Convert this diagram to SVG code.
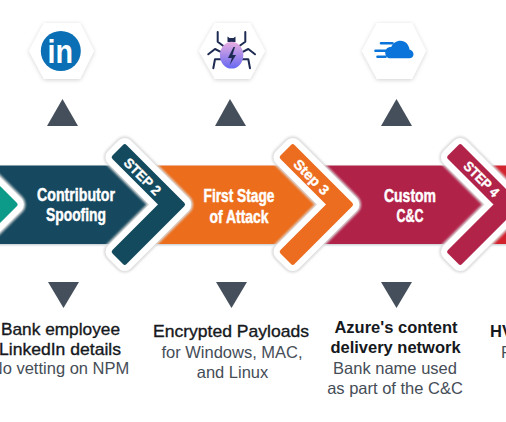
<svg xmlns="http://www.w3.org/2000/svg" width="506" height="422" viewBox="0 0 506 422">
<style>
.hex{fill:#fff;filter:url(#soft)}
.tri{fill:#454f5b}
.band{filter:url(#bandshadow)}
.halo{fill:none;stroke:#dcdcdc;stroke-width:21;stroke-linejoin:round;filter:url(#blur)}
.rim{fill:#fff;stroke:#fff;stroke-width:17.500;stroke-linejoin:round}
.ch{stroke-width:5;stroke-linejoin:round}
.title{font-family:"Liberation Sans",Arial,sans-serif;font-weight:700;font-size:19px;fill:#fff;stroke:#fff;stroke-width:.5;text-anchor:middle}
.step{font-family:"Liberation Sans",Arial,sans-serif;font-weight:700;font-size:14px;fill:#fff;stroke:#fff;stroke-width:.3;text-anchor:middle}
.head{font-family:"Liberation Sans",Arial,sans-serif;font-size:17px;fill:#15181c;stroke:#15181c;stroke-width:.35;text-anchor:middle}
.bold{font-family:"Liberation Sans",Arial,sans-serif;font-weight:700;font-size:16.500px;fill:#15181c;text-anchor:middle}
.sub{font-family:"Liberation Sans",Arial,sans-serif;font-size:16.500px;fill:#454d57;text-anchor:middle}
.leg{fill:none;stroke:#1d2a52;stroke-width:2;stroke-linejoin:round;stroke-linecap:round}
.speed{fill:none;stroke:#0a74da;stroke-width:2.6;stroke-linecap:round}
</style>
<defs>
<filter id="soft" x="-20%" y="-20%" width="140%" height="140%"><feDropShadow dx="0" dy="1" stdDeviation="2" flood-color="#000" flood-opacity=".18"/></filter>
<filter id="bandshadow" x="-5%" y="-10%" width="110%" height="120%"><feDropShadow dx="0" dy="1" stdDeviation=".8" flood-color="#5a6a7a" flood-opacity=".4"/></filter>
<filter id="blur" x="-20%" y="-20%" width="140%" height="140%"><feGaussianBlur stdDeviation="1"/></filter>
<linearGradient id="bugfill" x1="0" y1="0" x2="0" y2="1"><stop offset="0" stop-color="#e8aee0"/><stop offset="1" stop-color="#6768f2"/></linearGradient>
<path id="chev" d="M124.750 146.750L182.500 204.500L124.750 262.250L114.250 251.750L161.500 204.500L114.250 157.250Z"/>
</defs>
<rect width="506" height="422" fill="#fff"/>

<g id="bands">
<rect class="band" x="-20" y="165.500" width="170" height="78.500" fill="#134a5e"/>
<rect class="band" x="150" y="165.500" width="168" height="78.500" fill="#ec6d1f"/>
<rect class="band" x="318" y="165.500" width="167" height="78.500" fill="#b12348"/>
<rect class="band" x="485" y="165.500" width="40" height="78.500" fill="#d2202f"/>
</g>

<g id="step-1">
<use href="#chev" class="halo" transform="translate(-167.500 0)"/>
<use href="#chev" class="rim" transform="translate(-167.500 0)"/>
<use href="#chev" class="ch" transform="translate(-167.500 0)" fill="#0c9b88" stroke="#0c9b88"/>
</g>
<g id="step-2">
<use href="#chev" class="halo"/>
<use href="#chev" class="rim"/>
<use href="#chev" class="ch" fill="#134a5e" stroke="#134a5e"/>
<text class="step" transform="translate(139 180) rotate(45)" textLength="46" lengthAdjust="spacingAndGlyphs">STEP 2</text>
<text class="title" x="76" y="200.500" textLength="78" lengthAdjust="spacingAndGlyphs">Contributor</text>
<text class="title" x="76" y="220.500" textLength="60" lengthAdjust="spacingAndGlyphs">Spoofing</text>
</g>
<g id="step-3">
<use href="#chev" class="halo" transform="translate(168 0)"/>
<use href="#chev" class="rim" transform="translate(168 0)"/>
<use href="#chev" class="ch" transform="translate(168 0)" fill="#ec6d1f" stroke="#ec6d1f"/>
<text class="step" transform="translate(308 180.500) rotate(45)" textLength="44" lengthAdjust="spacingAndGlyphs">Step 3</text>
<text class="title" x="239" y="202" textLength="71" lengthAdjust="spacingAndGlyphs">First Stage</text>
<text class="title" x="239" y="222.500" textLength="59" lengthAdjust="spacingAndGlyphs">of Attack</text>
</g>
<g id="step-4">
<use href="#chev" class="halo" transform="translate(335.500 0)"/>
<use href="#chev" class="rim" transform="translate(335.500 0)"/>
<use href="#chev" class="ch" transform="translate(335.500 0)" fill="#b12348" stroke="#b12348"/>
<text class="step" transform="translate(478 182.500) rotate(45)" textLength="44" lengthAdjust="spacingAndGlyphs">STEP 4</text>
<text class="title" x="410" y="202" textLength="52" lengthAdjust="spacingAndGlyphs">Custom</text>
<text class="title" x="410" y="222" textLength="27" lengthAdjust="spacingAndGlyphs">C&amp;C</text>
</g>

<g id="connectors">
<polygon class="tri" points="62.500,99 47,126 78,126"/>
<polygon class="tri" points="230,99 215,126 246,126"/>
<polygon class="tri" points="396.500,99 381,126 412,126"/>
<polygon class="tri" points="48,282 79,282 63.500,308"/>
<polygon class="tri" points="216,282 247,282 231.500,308"/>
<polygon class="tri" points="381,282 412,282 396.500,308"/>
</g>

<g id="icon-linkedin">
<polygon class="hex" points="29,51 44,23 80,23 94,51 80,79 44,79"/>
<circle cx="60.800" cy="51" r="20" fill="#0a6fb4"/>
<text x="47.500" y="63" font-family="'Liberation Sans',Arial,sans-serif" font-weight="700" font-size="33" fill="#fff" textLength="25.500" lengthAdjust="spacingAndGlyphs">in</text>
</g>
<g id="icon-bug">
<polygon class="hex" points="199,51 215,23 250,23 265,51 250,79 215,79"/>
<path class="leg" d="M217.700 32V41.700L223 45.700M245.300 32V41.700L239.700 45.700M208.300 54.300L215 49L221.700 52.300M255 54.300L248.300 49L241.700 52.300M213.300 68.300L215 59.300H221.700M250 68.300L248.300 59.300H241.700"/>
<path d="M227.500 42V36.500L229.500 38H233.500L235.500 36.500V42Z" fill="#1d2a52"/>
<ellipse cx="231.600" cy="55.200" rx="11.700" ry="13.400" fill="url(#bugfill)"/>
<polygon points="233.500,47 228,58 231.800,58 229.800,65 236,55 232.500,55 235,47" fill="#1d2a52"/>
</g>
<g id="icon-cloud">
<polygon class="hex" points="362,51 377,23 412,23 426,51 412,79 377,79"/>
<path class="speed" d="M381 43.300H392.500M375.500 50.700H385.500M377.500 56.700H385.500"/>
<path d="M390.500 58.300C386.500 58.300 385.200 55.300 385.200 52.500C385.200 49 388 46.800 391.200 47C392.700 43 396.500 40.700 400.500 40.700C405.500 40.700 409 44.700 409.500 49.500C411.800 50 413.500 52 413.500 54.300C413.500 56.800 411.500 58.300 409.500 58.300Z" fill="#0a74da"/>
</g>

<g id="text-1">
<text class="head" x="60.500" y="335" textLength="119" lengthAdjust="spacingAndGlyphs">Bank employee</text>
<text class="head" x="60" y="355" textLength="122" lengthAdjust="spacingAndGlyphs">LinkedIn details</text>
<text class="sub" x="60" y="374">No vetting on NPM</text>
</g>
<g id="text-2">
<text class="head" x="231" y="336.500" textLength="156" lengthAdjust="spacingAndGlyphs">Encrypted Payloads</text>
<text class="sub" x="232" y="358">for Windows, MAC,</text>
<text class="sub" x="232.500" y="378">and Linux</text>
</g>
<g id="text-3">
<text class="bold" x="396" y="333">Azure's content</text>
<text class="bold" x="395.500" y="353">delivery network</text>
<text class="sub" x="395" y="374">Bank name used</text>
<text class="sub" x="395" y="394">as part of the C&amp;C</text>
</g>
<g id="text-4">
<text class="bold" x="490" y="337" style="text-anchor:start">HV</text>
<text class="sub" x="501" y="358" style="text-anchor:start">F</text>
</g>
</svg>
